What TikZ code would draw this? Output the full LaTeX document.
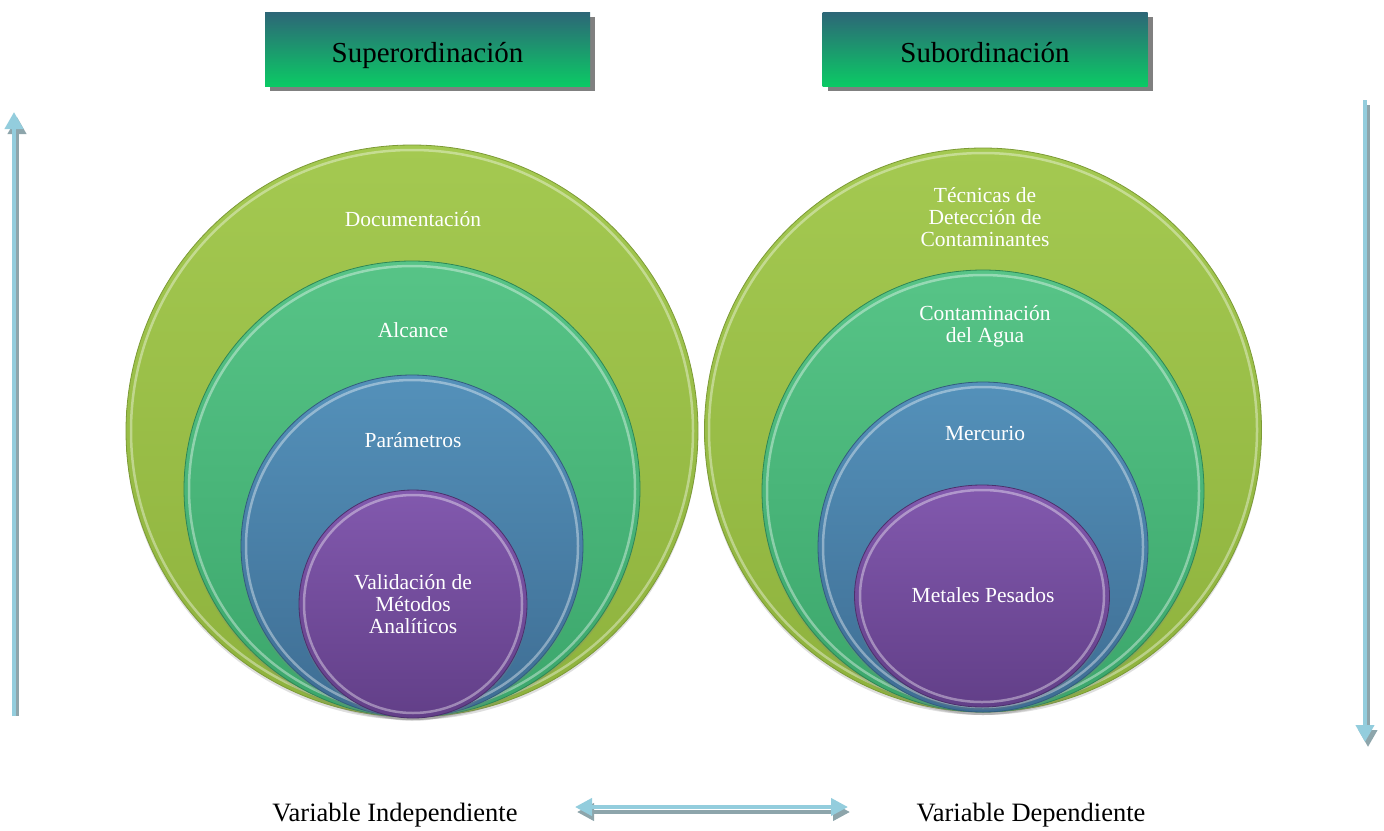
\documentclass[tikz,border=0pt]{standalone}
\usepackage{fontspec}
\setmainfont{Liberation Serif}
\usetikzlibrary{shapes.geometric,arrows.meta,shadows}
\definecolor{gA1}{HTML}{A4C951}
\definecolor{gA2}{HTML}{8EB23D}
\definecolor{gAd}{HTML}{7C9A36}
\definecolor{gB1}{HTML}{57C487}
\definecolor{gB2}{HTML}{3BA66B}
\definecolor{gBd}{HTML}{2E8756}
\definecolor{gC1}{HTML}{5491BA}
\definecolor{gC2}{HTML}{3E6D93}
\definecolor{gCd}{HTML}{335C7E}
\definecolor{gD1}{HTML}{8259AE}
\definecolor{gD2}{HTML}{623F88}
\definecolor{gDd}{HTML}{4C306C}
\definecolor{hTop}{HTML}{2D6677}
\definecolor{hBot}{HTML}{0BCA65}
\definecolor{arrC}{HTML}{93CDDD}
\definecolor{arrS}{HTML}{8DA5AB}
\begin{document}
\begin{tikzpicture}[x=1pt,y=-1pt,
  lvA/.style={top color=gA1, bottom color=gA2, draw=gAd, line width=0.8pt, inner sep=0pt,
    drop shadow={shadow xshift=0pt, shadow yshift=-3pt, opacity=0.25}},
  lvB/.style={top color=gB1, bottom color=gB2, draw=gBd, line width=0.8pt, inner sep=0pt,
    drop shadow={shadow xshift=0pt, shadow yshift=-3pt, opacity=0.25}},
  lvC/.style={top color=gC1, bottom color=gC2, draw=gCd, line width=0.8pt, inner sep=0pt,
    drop shadow={shadow xshift=0pt, shadow yshift=-3pt, opacity=0.25}},
  lvD/.style={top color=gD1, bottom color=gD2, draw=gDd, line width=0.8pt, inner sep=0pt,
    drop shadow={shadow xshift=0pt, shadow yshift=-3pt, opacity=0.25}},
  rim/.style={draw=white, line width=2.5pt, opacity=0.38},
  lbl/.style={text=white, font=\fontsize{21.5}{22}\selectfont, align=center, inner sep=0pt},
  hdr/.style={rectangle, minimum width=325pt, minimum height=74pt, top color=hTop, bottom color=hBot,
    font=\fontsize{29}{32}\selectfont, text=black, text height=32pt, text depth=6pt, inner sep=0pt,
    drop shadow={shadow xshift=5pt, shadow yshift=-5pt, fill=black!50, opacity=1}},
  foot/.style={font=\fontsize{26.5}{28}\selectfont, text=black, inner sep=0pt},
  arrmain/.style={draw=arrC, line width=4pt, -{Triangle[width=18pt,length=17pt]}},
  arrshad/.style={draw=arrS, line width=4pt, -{Triangle[width=18pt,length=17pt]}},
  darrmain/.style={draw=arrC, line width=4pt, {Triangle[width=17pt,length=17pt]}-{Triangle[width=17pt,length=17pt]}},
  darrshad/.style={draw=arrS, line width=4pt, {Triangle[width=17pt,length=17pt]}-{Triangle[width=17pt,length=17pt]}}
]
\useasboundingbox (0,0) rectangle (1384,830);

% headers
\node[hdr] (h1) at (427.5,49) {Superordinación};
\node[hdr] (h2) at (985,49) {Subordinación};

% left side circles
\node[lvA, circle, minimum size=572pt] (c1) at (412,431) {};
\draw[rim] (412,431) circle[radius=281];
\node[lvB, circle, minimum size=456pt] (c2) at (412,489) {};
\draw[rim] (412,489) circle[radius=223];
\node[lvC, circle, minimum size=342pt] (c3) at (412,546) {};
\draw[rim] (412,546) circle[radius=166];
\node[lvD, circle, minimum size=228pt] (c4) at (413,604) {};
\draw[rim] (413,604) circle[radius=109];

\node[lbl] (t1) at (413,219) {Documentación};
\node[lbl] (t2) at (413,330) {Alcance};
\node[lbl] (t3) at (413,440) {Parámetros};
\node[lbl] (t4) at (413,604) {Validación de\\Métodos\\Analíticos};

% right side circles
\node[lvA, ellipse, minimum width=557pt, minimum height=564pt] (d1) at (983,430) {};
\draw[rim] (983,430) ellipse[x radius=274, y radius=277];
\node[lvB, circle, minimum size=442pt] (d2) at (983,491) {};
\draw[rim] (983,491) circle[radius=216];
\node[lvC, circle, minimum size=330pt] (d3) at (983,547) {};
\draw[rim] (983,547) circle[radius=160];
\node[lvD, ellipse, minimum width=255pt, minimum height=222pt] (d4) at (982,596) {};
\draw[rim] (982,596) ellipse[x radius=122, y radius=106];

\node[lbl] (u1) at (985,217) {Técnicas de\\Detección de\\Contaminantes};
\node[lbl] (u2) at (985,326) {Contaminación\\del Agua};
\node[lbl] (u3) at (985,433) {Mercurio};
\node[lbl] (u4) at (983,595) {Metales Pesados};

% vertical arrows
\coordinate (la0) at (14,716);
\coordinate (la1) at (14,112);
\coordinate (ls0) at (17,716);
\coordinate (ls1) at (17,117);
\draw[arrshad] (ls0) -- (ls1);
\draw[arrmain] (la0) -- (la1);

\coordinate (ra0) at (1365,100);
\coordinate (ra1) at (1365,742);
\coordinate (rs0) at (1368,105);
\coordinate (rs1) at (1368,747);
\draw[arrshad] (rs0) -- (rs1);
\draw[arrmain] (ra0) -- (ra1);

% bottom
\node[foot] (v1) at (395,815) {Variable Independiente};
\node[foot] (v2) at (1031,815) {Variable Dependiente};
\coordinate (ba0) at (575,807);
\coordinate (ba1) at (848,807);
\coordinate (bs0) at (577,812);
\coordinate (bs1) at (850,812);
\draw[darrshad] (bs0) -- (bs1);
\draw[darrmain] (ba0) -- (ba1);
\end{tikzpicture}
\end{document}
